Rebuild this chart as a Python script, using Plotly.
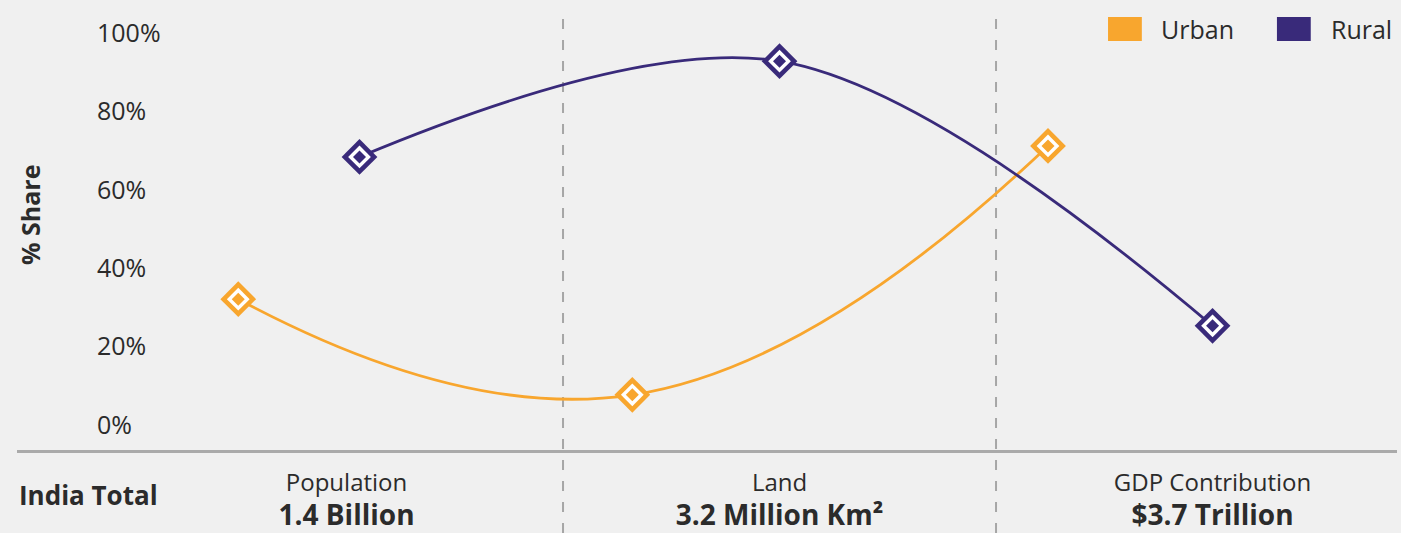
import plotly.graph_objects as go

# ---- data ----
categories = ["Population", "Land", "GDP Contribution"]
totals = ["1.4 Billion", "3.2 Million Km²", "$3.7 Trillion"]
urban_x = [-0.25, 0.66, 1.62]
urban = [32.1, 7.7, 71.2]
rural_x = [0.03, 1.0, 2.0]
rural = [68.4, 92.8, 25.3]
ytick_vals = [0, 20, 40, 60, 80, 100]
ytick_text = ["0%", "20%", "40%", "60%", "80%", "100%"]
series_names = ["Urban", "Rural"]

URBAN = "#F8A62E"
RURAL = "#392A7A"
TEXT = "#2b2b2b"
BG = "#f0f0f0"
FONT = "Open Sans"

fig = go.Figure()


def add_series(xs, ys, color, name, smoothing):
    fig.add_trace(go.Scatter(
        x=xs, y=ys, mode="lines+markers", name=name, showlegend=False,
        line=dict(color=color, width=2.8, shape="spline", smoothing=smoothing),
        marker=dict(symbol="diamond", size=27.5, color=color),
    ))
    fig.add_trace(go.Scatter(
        x=xs, y=ys, mode="markers", showlegend=False, hoverinfo="skip",
        marker=dict(symbol="diamond", size=17.5, color="white"),
    ))
    fig.add_trace(go.Scatter(
        x=xs, y=ys, mode="markers", showlegend=False, hoverinfo="skip",
        marker=dict(symbol="diamond", size=10, color=color),
    ))


add_series(urban_x, urban, URBAN, series_names[0], 1.3)
add_series(rural_x, rural, RURAL, series_names[1], 1.0)

# category separators
for i in range(len(categories) - 1):
    fig.add_shape(type="line", xref="x", yref="paper", x0=i + 0.5, x1=i + 0.5,
                  y0=0, y1=0.97, line=dict(color="#a6a6a6", width=2, dash="10px,11px"),
                  layer="below")

# legend (square swatches + labels) drawn in the top-right corner
legend_items = [(series_names[0], URBAN, 0.7906, 0.8275), (series_names[1], RURAL, 0.9130, 0.9507)]
for name, color, sx, tx in legend_items:
    fig.add_shape(type="rect", xref="paper", yref="paper", x0=sx, x1=sx + 0.0245,
                  y0=0.923, y1=0.968, fillcolor=color, line=dict(width=0))
    fig.add_annotation(text=name, xref="paper", yref="paper", x=tx, y=0.9456,
                       xanchor="left", yanchor="middle", showarrow=False,
                       font=dict(family=FONT, size=25, color=TEXT))

ticktext = [
    f"<span style='font-size:24px'>{c}</span><br><b><span style='font-size:28px'>{t}</span></b>"
    for c, t in zip(categories, totals)
]

fig.add_annotation(text="<b>India Total</b>", xref="paper", yref="paper",
                   x=0, y=0.0713, xanchor="left", yanchor="middle", showarrow=False,
                   font=dict(family=FONT, size=26, color=TEXT))

fig.add_annotation(text="<b>% Share</b>", xref="paper", yref="paper",
                   x=0.0094, y=0.5966, xanchor="center", yanchor="middle", showarrow=False,
                   textangle=-90, font=dict(family=FONT, size=25, color=TEXT))

fig.update_layout(
    width=1401, height=533,
    margin=dict(l=17, r=4, t=0, b=0, autoexpand=False),
    paper_bgcolor=BG, plot_bgcolor=BG,
    font=dict(family=FONT, color=TEXT),
    showlegend=False,
    xaxis=dict(
        range=[-0.761, 2.426], anchor="free", position=0.1538, automargin=False,
        showgrid=False, zeroline=False, showline=True, linecolor="#aaaaaa", linewidth=2.5,
        tickvals=list(range(len(categories))), ticktext=ticktext,
        tickfont=dict(family=FONT, size=26, color=TEXT),
        ticks="", ticklabelstandoff=7,
    ),
    yaxis=dict(
        range=[-27.55, 108.42], anchor="free", position=0.0203, automargin=False,
        showgrid=False, zeroline=False, showline=False,
        tickvals=ytick_vals, ticktext=ytick_text,
        ticklabelposition="inside", ticklabelstandoff=48,
        tickfont=dict(family=FONT, size=25, color=TEXT),
    ),
)

fig.write_html("out.html")
